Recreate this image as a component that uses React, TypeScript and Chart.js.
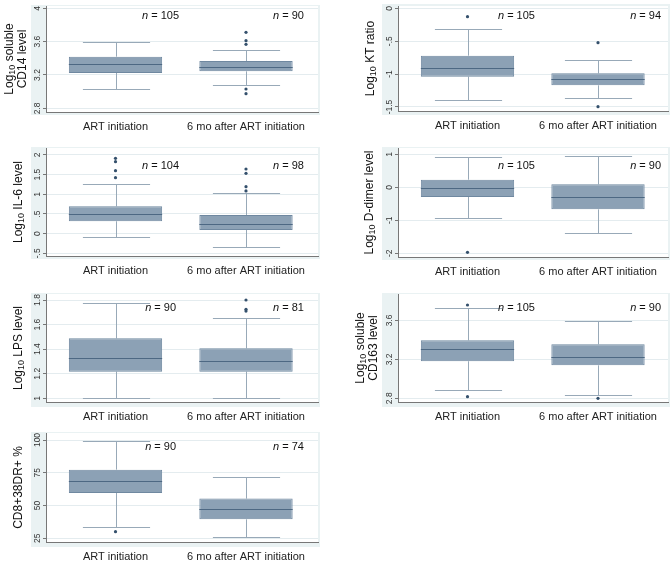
import React, { useEffect, useRef } from "react";
import { Chart, registerables } from "chart.js";
Chart.register(...registerables);

const FONT = "'Liberation Sans', Arial, Helvetica, sans-serif";

const categories = ["ART initiation", "6 mo after ART initiation"];

// Box statistics: [lower whisker, Q1, median, Q3, upper whisker]
const cd14Art = [3.028, 3.224, 3.328, 3.42, 3.592];
const cd14Six = [3.076, 3.244, 3.296, 3.368, 3.504];
const cd14ArtOut: number[] = [];
const cd14SixOut = [3.712, 3.612, 3.568, 3.032, 2.976];
const cd14N = [105, 90];
const cd14Ticks = [2.8, 3.2, 3.6, 4];
const cd14TickLabels = ["2.8", "3.2", "3.6", "4"];
const cd14Title = ["Log|10| soluble", "CD14 level"];

const ktArt = [-1.399, -1.039, -0.912, -0.72, -0.314];
const ktSix = [-1.363, -1.171, -1.069, -0.988, -0.781];
const ktArtOut = [-0.127];
const ktSixOut = [-0.522, -1.495];
const ktN = [105, 94];
const ktTicks = [-1.5, -1, -0.5, 0];
const ktTickLabels = ["-1.5", "-1", "-.5", "0"];
const ktTitle = ["Log|10| KT ratio"];

const il6Art = [-0.085, 0.314, 0.492, 0.695, 1.254];
const il6Six = [-0.347, 0.093, 0.237, 0.475, 1.025];
const il6ArtOut = [1.915, 1.83, 1.6, 1.424];
const il6SixOut = [1.644, 1.534, 1.195, 1.085];
const il6N = [104, 98];
const il6Ticks = [-0.5, 0, 0.5, 1, 1.5, 2];
const il6TickLabels = ["-.5", "0", ".5", "1", "1.5", "2"];
const il6Title = ["Log|10| IL-6 level"];

const ddArt = [-0.939, -0.293, -0.03, 0.232, 0.909];
const ddSix = [-1.394, -0.667, -0.283, 0.091, 0.95];
const ddArtOut = [-1.97];
const ddSixOut: number[] = [];
const ddN = [105, 90];
const ddTicks = [-2, -1, 0, 1];
const ddTickLabels = ["-2", "-1", "0", "1"];
const ddTitle = ["Log|10| D-dimer level"];

const lpsArt = [1.0, 1.217, 1.325, 1.488, 1.773];
const lpsSix = [1.0, 1.217, 1.304, 1.407, 1.651];
const lpsArtOut: number[] = [];
const lpsSixOut = [1.8, 1.724, 1.71];
const lpsN = [90, 81];
const lpsTicks = [1, 1.2, 1.4, 1.6, 1.8];
const lpsTickLabels = ["1", "1.2", "1.4", "1.6", "1.8"];
const lpsTitle = ["Log|10| LPS level"];

const cd163Art = [2.885, 3.18, 3.303, 3.395, 3.723];
const cd163Six = [2.831, 3.138, 3.22, 3.354, 3.59];
const cd163ArtOut = [3.757, 2.817];
const cd163SixOut = [2.8];
const cd163N = [105, 90];
const cd163Ticks = [2.8, 3.2, 3.6];
const cd163TickLabels = ["2.8", "3.2", "3.6"];
const cd163Title = ["Log|10| soluble", "CD163 level"];

const cd8Art = [33.9, 59.6, 68.5, 77.4, 99.5];
const cd8Six = [25.8, 39.5, 47.1, 55.3, 72.0];
const cd8ArtOut = [30.1];
const cd8SixOut: number[] = [];
const cd8N = [90, 74];
const cd8Ticks = [25, 50, 75, 100];
const cd8TickLabels = ["25", "50", "75", "100"];
const cd8Title = ["CD8+38DR+ %"];

type PanelDef = {
  stats: number[][];
  outliers: number[][];
  n: number[];
  ticks: number[];
  tickLabels: string[];
  title: string[];
  col: number;
  row: number;
  h: number;
  light: number[]; // l,t,r,b
  chart: number[]; // l,t,r,b
  yMin: number;
  yMax: number;
  nY: number;
  nX: number[];
  titleX: number;
};

const panels: PanelDef[] = [
  { stats: [cd14Art, cd14Six], outliers: [cd14ArtOut, cd14SixOut], n: cd14N, ticks: cd14Ticks, tickLabels: cd14TickLabels, title: cd14Title,
    col: 0, row: 0, h: 140, light: [31, 5, 320, 115], chart: [46, 6, 318, 112], yMin: 2.756, yMax: 4.028, nY: 3.912, nX: [0.487, 1.444], titleX: 16.5 },
  { stats: [ktArt, ktSix], outliers: [ktArtOut, ktSixOut], n: ktN, ticks: ktTicks, tickLabels: ktTickLabels, title: ktTitle,
    col: 1, row: 0, h: 140, light: [46, 4, 334, 115], chart: [62, 6, 332, 111], yMin: -1.561, yMax: 0.035, nY: -0.111, nX: [0.517, 1.483], titleX: 35 },
  { stats: [il6Art, il6Six], outliers: [il6ArtOut, il6SixOut], n: il6N, ticks: il6Ticks, tickLabels: il6TickLabels, title: il6Title,
    col: 0, row: 1, h: 140, light: [31, 7, 320, 119], chart: [46, 8, 318, 116], yMin: -0.569, yMax: 2.178, nY: 1.729, nX: [0.487, 1.444], titleX: 19 },
  { stats: [ddArt, ddSix], outliers: [ddArtOut, ddSixOut], n: ddN, ticks: ddTicks, tickLabels: ddTickLabels, title: ddTitle,
    col: 1, row: 1, h: 140, light: [46, 7, 334, 120], chart: [62, 8, 332, 117], yMin: -2.111, yMax: 1.192, nY: 0.657, nX: [0.517, 1.483], titleX: 34 },
  { stats: [lpsArt, lpsSix], outliers: [lpsArtOut, lpsSixOut], n: lpsN, ticks: lpsTicks, tickLabels: lpsTickLabels, title: lpsTitle,
    col: 0, row: 2, h: 140, light: [31, 13, 320, 127], chart: [46, 14, 318, 122], yMin: 0.97, yMax: 1.849, nY: 1.738, nX: [0.464, 1.444], titleX: 19 },
  { stats: [cd163Art, cd163Six], outliers: [cd163ArtOut, cd163SixOut], n: cd163N, ticks: cd163Ticks, tickLabels: cd163TickLabels, title: cd163Title,
    col: 1, row: 2, h: 140, light: [46, 13, 334, 127], chart: [62, 14, 332, 122], yMin: 2.762, yMax: 3.87, nY: 3.73, nX: [0.517, 1.483], titleX: 31.5 },
  { stats: [cd8Art, cd8Six], outliers: [cd8ArtOut, cd8SixOut], n: cd8N, ticks: cd8Ticks, tickLabels: cd8TickLabels, title: cd8Title,
    col: 0, row: 3, h: 142, light: [31, 12, 320, 127], chart: [46, 13, 318, 122], yMin: 22.2, yMax: 105.34, nY: 94.9, nX: [0.464, 1.444], titleX: 19 },
];

const W = 336;
const BOX_FILL = "#8ca1b5";
const BOX_LINE = "#6f88a0";
const MEDIAN = "#4d6883";
const WHISKER = "#98a9b8";
const DOT = "#34506c";

const boxPlugin = {
  id: "boxDeco",
  beforeDraw(chart: any) {
    const p: PanelDef = chart.options.plugins.boxDeco.panel;
    const { ctx, chartArea } = chart;
    ctx.save();
    ctx.fillStyle = "#eaf2f3";
    ctx.fillRect(p.light[0], p.light[1], p.light[2] - p.light[0], p.light[3] - p.light[1]);
    ctx.fillStyle = "#ffffff";
    ctx.fillRect(chartArea.left, chartArea.top, chartArea.right - chartArea.left, chartArea.bottom - chartArea.top);
    ctx.restore();
  },
  beforeDatasetsDraw(chart: any) {
    const p: PanelDef = chart.options.plugins.boxDeco.panel;
    const { ctx } = chart;
    const xs = chart.scales.x;
    const ys = chart.scales.y;
    const meta = chart.getDatasetMeta(0);
    ctx.save();
    ctx.strokeStyle = WHISKER;
    ctx.lineWidth = 1;
    p.stats.forEach((s, i) => {
      const cx = Math.round(xs.getPixelForValue(i)) + 0.5;
      const bw = meta.data[i].width;
      const half = bw * 0.36;
      const yLo = Math.round(ys.getPixelForValue(s[0])) + 0.5;
      const yQ1 = ys.getPixelForValue(s[1]);
      const yQ3 = ys.getPixelForValue(s[3]);
      const yHi = Math.round(ys.getPixelForValue(s[4])) + 0.5;
      ctx.beginPath();
      ctx.moveTo(cx, yLo);
      ctx.lineTo(cx, yQ1);
      ctx.moveTo(cx, yQ3);
      ctx.lineTo(cx, yHi);
      ctx.moveTo(cx - half, yLo);
      ctx.lineTo(cx + half, yLo);
      ctx.moveTo(cx - half, yHi);
      ctx.lineTo(cx + half, yHi);
      ctx.stroke();
    });
    ctx.restore();
  },
  afterDatasetsDraw(chart: any) {
    const p: PanelDef = chart.options.plugins.boxDeco.panel;
    const { ctx } = chart;
    const xs = chart.scales.x;
    const ys = chart.scales.y;
    const meta = chart.getDatasetMeta(0);
    ctx.save();
    ctx.strokeStyle = MEDIAN;
    ctx.lineWidth = 1;
    p.stats.forEach((s, i) => {
      const cx = xs.getPixelForValue(i);
      const bw = meta.data[i].width;
      const y = Math.round(ys.getPixelForValue(s[2])) + 0.5;
      ctx.beginPath();
      ctx.moveTo(cx - bw / 2, y);
      ctx.lineTo(cx + bw / 2, y);
      ctx.stroke();
    });
    ctx.restore();
  },
  afterDraw(chart: any) {
    const p: PanelDef = chart.options.plugins.boxDeco.panel;
    const { ctx, chartArea } = chart;
    const xs = chart.scales.x;
    const ys = chart.scales.y;
    ctx.save();
    // y tick labels (rotated)
    ctx.fillStyle = "#333";
    ctx.font = `8.5px ${FONT}`;
    ctx.textAlign = "center";
    ctx.textBaseline = "bottom";
    ys.ticks.forEach((t: any, i: number) => {
      const y = ys.getPixelForValue(t.value);
      ctx.save();
      ctx.translate(chartArea.left - 4, y);
      ctx.rotate(-Math.PI / 2);
      ctx.fillText(p.tickLabels[i], 0, 0);
      ctx.restore();
    });
    // axis title
    ctx.fillStyle = "#111";
    ctx.textAlign = "left";
    ctx.textBaseline = "middle";
    const cy = (chartArea.top + chartArea.bottom) / 2;
    ctx.translate(p.titleX, cy);
    ctx.rotate(-Math.PI / 2);
    const gap = 13;
    p.title.forEach((line, li) => {
      const off = (li - (p.title.length - 1) / 2) * gap;
      const segs = line.split("|").map((t, k) => ({ t, sub: k % 2 === 1 }));
      let total = 0;
      segs.forEach((sg) => {
        ctx.font = sg.sub ? `9px ${FONT}` : `12px ${FONT}`;
        total += ctx.measureText(sg.t).width;
      });
      let x = -total / 2;
      segs.forEach((sg) => {
        ctx.font = sg.sub ? `9px ${FONT}` : `12px ${FONT}`;
        ctx.fillText(sg.t, x, off + (sg.sub ? 3 : 0));
        x += ctx.measureText(sg.t).width;
      });
    });
    ctx.restore();
    // n labels
    ctx.save();
    ctx.fillStyle = "#111";
    ctx.textBaseline = "middle";
    ctx.textAlign = "left";
    p.n.forEach((nv, i) => {
      const right = xs.getPixelForValue(p.nX[i]);
      const y = ys.getPixelForValue(p.nY);
      const rest = " = " + nv;
      ctx.font = `italic 11px ${FONT}`;
      const wn = ctx.measureText("n").width;
      ctx.font = `11px ${FONT}`;
      const wr = ctx.measureText(rest).width;
      const start = right - wn - wr;
      ctx.font = `italic 11px ${FONT}`;
      ctx.fillText("n", start, y);
      ctx.font = `11px ${FONT}`;
      ctx.fillText(rest, start + wn, y);
    });
    ctx.restore();
  },
};

function Panel({ p }: { p: PanelDef }) {
  const ref = useRef<HTMLCanvasElement>(null);
  useEffect(() => {
    if (!ref.current) return;
    const [cl, ct, cr, cb] = p.chart;
    const chartW = cr - cl;
    const c0 = 69.5;
    const unit = 130.5;
    const xMin = -c0 / unit;
    const xMax = (chartW - c0) / unit;
    const boxData = p.stats.map((s, i) => ({ x: i, y: [s[1], s[3]] }));
    const outData: { x: number; y: number }[] = [];
    p.outliers.forEach((arr, i) => arr.forEach((v) => outData.push({ x: i, y: v })));
    const chart = new Chart(ref.current, {
      type: "bar",
      data: {
        datasets: [
          {
            type: "bar",
            data: boxData as any,
            backgroundColor: BOX_FILL,
            borderColor: BOX_LINE,
            borderWidth: 1,
            borderSkipped: false,
            categoryPercentage: 1,
            barPercentage: 0.715,
          } as any,
          {
            type: "scatter",
            data: outData,
            backgroundColor: DOT,
            borderWidth: 0,
            pointRadius: 1.6,
          } as any,
        ],
      },
      options: {
        animation: false,
        responsive: false,
        events: [],
        layout: { padding: { left: 0, right: W - cr, top: ct, bottom: 0 } },
        plugins: {
          legend: { display: false },
          tooltip: { enabled: false },
          boxDeco: { panel: p },
        } as any,
        scales: {
          x: {
            type: "linear",
            offset: false,
            min: xMin,
            max: xMax,
            afterBuildTicks: (s: any) => {
              s.ticks = categories.map((_, i) => ({ value: i }));
            },
            afterFit: (s: any) => {
              s.height = p.h - cb;
            },
            ticks: {
              callback: (_v: any, i: number) => categories[i],
              font: { size: 11, family: FONT },
              color: "#222",
              padding: 8,
              maxRotation: 0,
              minRotation: 0,
              autoSkip: false,
            },
            grid: { display: false, drawTicks: false, offset: false },
            border: { display: true, color: "#777", width: 1 },
          },
          y: {
            type: "linear",
            min: p.yMin,
            max: p.yMax,
            afterBuildTicks: (s: any) => {
              s.ticks = p.ticks.map((v) => ({ value: v }));
            },
            afterFit: (s: any) => {
              s.width = cl;
            },
            ticks: { display: false },
            grid: { color: "#e4ecef", tickColor: "#777", tickLength: 3, drawTicks: true, lineWidth: 1 },
            border: { display: true, color: "#777", width: 1 },
          },
        },
      } as any,
      plugins: [boxPlugin],
    });
    return () => chart.destroy();
  }, [p]);
  return (
    <canvas
      ref={ref}
      width={W}
      height={p.h}
      style={{ position: "absolute", left: p.col * W, top: p.row * 140, width: W, height: p.h }}
    />
  );
}

export default function App() {
  return (
    <div style={{ position: "absolute", left: 0, top: 0, width: 672, height: 562, background: "#fff", overflow: "hidden" }}>
      {panels.map((p, i) => (
        <Panel key={i} p={p} />
      ))}
    </div>
  );
}
